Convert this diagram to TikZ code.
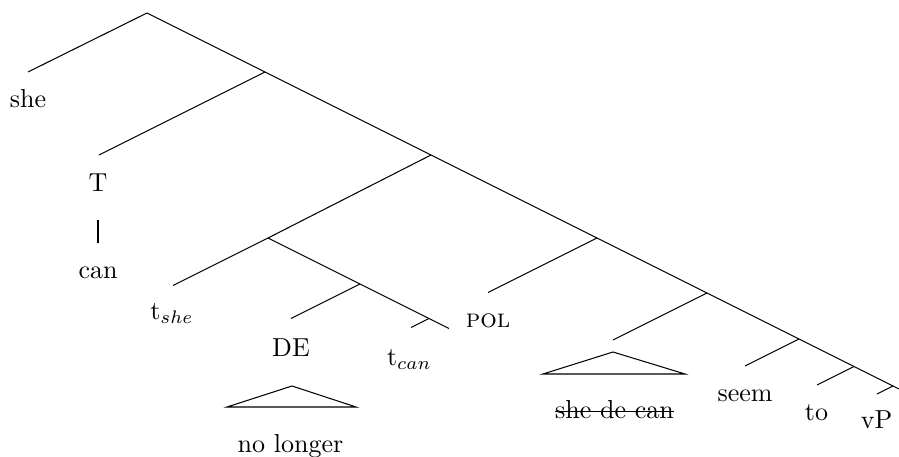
\documentclass[tikz,border=0pt]{standalone}
\begin{document}
\begin{tikzpicture}[x=0.3846pt,y=-0.3846pt,
  edge/.style={line width=0.4pt},
  lbl/.style={inner sep=0pt,outer sep=0pt,anchor=base}]
\useasboundingbox (0,0) rectangle (899,457);
% tree positions
\coordinate (R) at (147,13);
\coordinate (she) at (28,72);
\coordinate (A) at (265,72);
\coordinate (Tl) at (99,155);
\coordinate (B) at (431,155);
\coordinate (H) at (268,238);
\coordinate (tshe) at (173,285.5);
\coordinate (I) at (360,284);
\coordinate (del) at (291,318.5);
\coordinate (J) at (429,318.5);
\coordinate (tcan) at (411,327.5);
\coordinate (Jr) at (449,328.5);
\coordinate (C) at (597,238);
\coordinate (pol) at (488,292.5);
\coordinate (D) at (707,293);
\coordinate (sdc) at (613,340);
\coordinate (E) at (799,339);
\coordinate (seem) at (745,366);
\coordinate (F) at (854,366.5);
\coordinate (to) at (817,385);
\coordinate (G) at (893,386);
\coordinate (vp) at (877,394);
\coordinate (end) at (899,389);
% edges
\draw[edge] (she) -- (R) -- (A) -- (B) -- (C) -- (D) -- (E) -- (F) -- (G) -- (end);
\draw[edge] (A) -- (Tl);
\draw[edge] (B) -- (H) -- (tshe);
\draw[edge] (H) -- (I) -- (J) -- (Jr);
\draw[edge] (I) -- (del);
\draw[edge] (J) -- (tcan);
\draw[edge] (C) -- (pol);
\draw[edge] (D) -- (sdc);
\draw[edge] (E) -- (seem);
\draw[edge] (F) -- (to);
\draw[edge] (G) -- (vp);
% labels
\node[lbl] (Lshe) at (28,108) {she};
\node[lbl] (LT) at (98,192) {T};
\coordinate (bar1) at (98,220);
\coordinate (bar2) at (98,243);
\draw[edge] (bar1) -- (bar2);
\node[lbl] (Lcan) at (98,279) {can};
\node[lbl] (Ltshe) at (172,320) {t$_{she}$};
\node[lbl] (LDE) at (291,357) {DE};
\node[lbl] (Ltcan) at (409.5,366) {t$_{can}$};
\node[lbl] (Lpol) at (488,328) {\textsc{pol}};
\node[lbl] (Lseem) at (745,402) {seem};
\node[lbl] (Lto) at (816.5,421) {to};
\node[lbl] (LvP) at (876.5,429) {vP};
% triangles
\coordinate (t1a) at (292,386);
\coordinate (t1l) at (227,407);
\coordinate (t1r) at (356,407);
\draw[edge] (t1a) -- (t1l) -- (t1r) -- cycle;
\node[lbl] (Lnl) at (290.5,453) {no longer};
\coordinate (t2a) at (613,352);
\coordinate (t2l) at (543,374);
\coordinate (t2r) at (685,374);
\draw[edge] (t2a) -- (t2l) -- (t2r) -- cycle;
\node[lbl] (Lsdc) at (614.5,419) {she de can};
\draw[edge] ([yshift=3pt]Lsdc.base west) -- ([yshift=3pt]Lsdc.base east);
\end{tikzpicture}
\end{document}
